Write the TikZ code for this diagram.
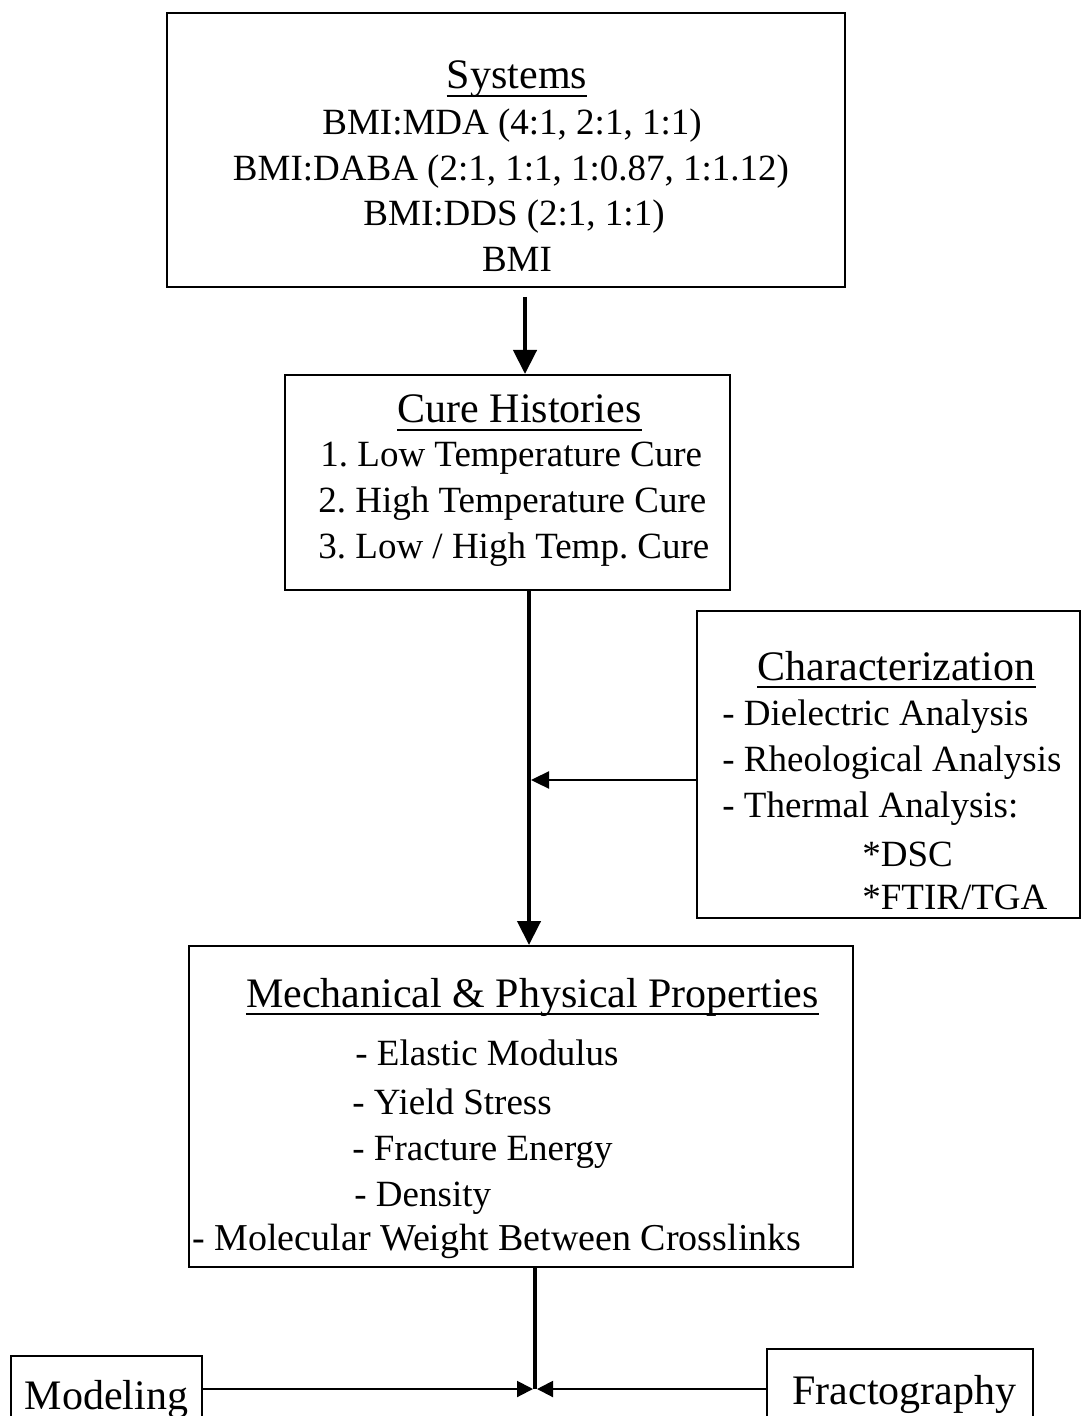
\documentclass[tikz,border=0pt]{standalone}
\usepackage{fontspec}
\setmainfont{Liberation Serif}
\usetikzlibrary{arrows.meta}
\frenchspacing
\begin{document}
\begin{tikzpicture}[x=0.5pt,y=-0.5pt,
  box/.style={draw, line width=1pt, inner sep=0pt},
  body/.style={inner sep=0pt, font=\fontsize{18.5}{22}\selectfont},
  title/.style={inner sep=0pt, font=\fontsize{21}{25}\selectfont},
  bigarrow/.style={line width=2.2pt, -{Triangle[length=12pt,width=11.5pt]}},
  smallarrow/.style={line width=1.2pt, -{Triangle[length=9pt,width=8.5pt]}},
  thinarrow/.style={line width=1pt, -{Triangle[length=8pt,width=8pt]}},
  uline/.style={line width=0.9pt}
]
\useasboundingbox (0,0) rectangle (1081,1416);
% boxes
\node[box, minimum width=339pt, minimum height=137pt] (sys) at (506,150) {};
\node[box, minimum width=222.5pt, minimum height=107.5pt] (cure) at (507.5,482.5) {};
\node[box, minimum width=191.5pt, minimum height=153.5pt] (char) at (888.5,764.5) {};
\node[box, minimum width=332pt, minimum height=160.5pt] (mech) at (521,1106.5) {};
\node[box, minimum width=95.5pt, minimum height=42pt] (model) at (106.5,1398) {};
\node[box, minimum width=133pt, minimum height=45.5pt] (fract) at (900,1394.5) {};
% Systems text
\node[title, anchor=base] (systitle) at (517,89) {Systems};
\draw[uline] ([yshift=-3.5pt]systitle.base west) -- ([yshift=-3.5pt]systitle.base east);
\node[body, anchor=base] (s1) at (512,135) {BMI:MDA (4:1, 2:1, 1:1)};
\node[body, anchor=base] (s2) at (511,181) {BMI:DABA (2:1, 1:1, 1:0.87, 1:1.12)};
\node[body, anchor=base] (s3) at (514,226) {BMI:DDS (2:1, 1:1)};
\node[body, anchor=base] (s4) at (517,272) {BMI};
% Cure text
\node[title, anchor=base] (curetitle) at (519.5,423) {Cure Histories};
\draw[uline] ([yshift=-3.5pt]curetitle.base west) -- ([yshift=-3.5pt]curetitle.base east);
\node[body, anchor=base west] (c1) at (320,467) {1. Low Temperature Cure};
\node[body, anchor=base west] (c2) at (318,512) {2. High Temperature Cure};
\node[body, anchor=base west] (c3) at (318,558) {3. Low / High Temp. Cure};
% Characterization text
\node[title, anchor=base] (chartitle) at (896.5,680) {Characterization};
\draw[uline] ([yshift=-3.5pt]chartitle.base west) -- ([yshift=-3.5pt]chartitle.base east);
\node[body, anchor=base west] (h1) at (722,725) {- Dielectric Analysis};
\node[body, anchor=base west] (h2) at (722,771) {- Rheological Analysis};
\node[body, anchor=base west] (h3) at (722,817) {- Thermal Analysis:};
\node[body, anchor=base west] (h4) at (862,866) {*DSC};
\node[body, anchor=base west] (h5) at (862,909) {*FTIR/TGA};
% Mech text
\node[title, anchor=base] (mechtitle) at (532.5,1007) {Mechanical \& Physical Properties};
\draw[uline] ([yshift=-3.5pt]mechtitle.base west) -- ([yshift=-3.5pt]mechtitle.base east);
\node[body, anchor=base west] (m1) at (355,1065) {- Elastic Modulus};
\node[body, anchor=base west] (m2) at (352,1114) {- Yield Stress};
\node[body, anchor=base west] (m3) at (352,1160) {- Fracture Energy};
\node[body, anchor=base west] (m4) at (354,1206) {- Density};
\node[body, anchor=base west, font=\fontsize{19}{22}\selectfont] (m5) at (192,1250) {- Molecular Weight Between Crosslinks};
% bottom
\node[title, anchor=base] (modeltext) at (106.5,1409) {Modeling};
\node[title, anchor=base] (fracttext) at (904.5,1404) {Fractography};
% connectors
\coordinate (a1) at (525,297);
\draw[bigarrow] (a1) -- (cure.north -| a1);
\coordinate (v1) at (529,590);
\draw[bigarrow] (v1 |- cure.south) -- (v1 |- mech.north);
\coordinate (j1) at (531,780);
\draw[smallarrow] (char.west |- j1) -- (j1);
\coordinate (jb) at (535,1389);
\draw[line width=2.2pt] (mech.south -| jb) -- (jb);
\draw[thinarrow] (model.east |- jb) -- ([xshift=-1pt]jb);
\draw[thinarrow] (fract.west |- jb) -- ([xshift=1pt]jb);
\end{tikzpicture}
\end{document}
